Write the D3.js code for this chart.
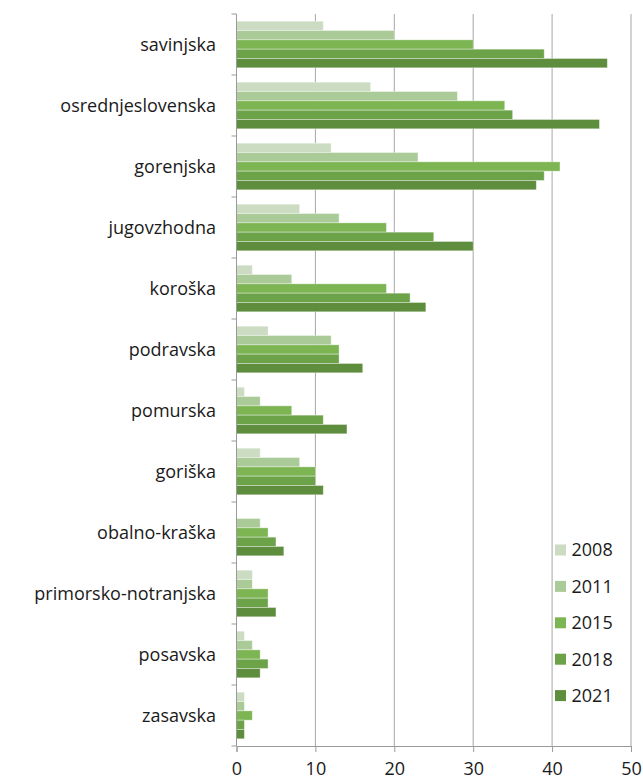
<!DOCTYPE html>
<html><head><meta charset="utf-8">
<script src="https://cdn.jsdelivr.net/npm/d3@7"></script>
<style>body{margin:0;background:#fff}svg{display:block}</style>
</head><body>
<svg id="c" width="643" height="780"></svg>
<script>
const categories = ["savinjska","osrednjeslovenska","gorenjska","jugovzhodna","koroška","podravska","pomurska","goriška","obalno-kraška","primorsko-notranjska","posavska","zasavska"];
const years = ["2008","2011","2015","2018","2021"];
const v2008 = [11,17,12,8,2,4,1,3,0,2,1,1];
const v2011 = [20,28,23,13,7,12,3,8,3,2,2,1];
const v2015 = [30,34,41,19,19,13,7,10,4,4,3,2];
const v2018 = [39,35,39,25,22,13,11,10,5,4,4,1];
const v2021 = [47,46,38,30,24,16,14,11,6,5,3,1];
const xTicks = [0,10,20,30,40,50];
const colors = ["#cbdcc3","#aacb98","#7db553","#6ca349","#5e8d3e"];
const series = [v2008,v2011,v2015,v2018,v2021];

(function(){
const svg = d3.select("#c");
const font = "'Open Sans', sans-serif";
const pL = 236.5, pR = 631, pT = 14, pB = 746;
const x = d3.scaleLinear().domain([0,50]).range([pL,pR]);
const y = d3.scaleBand().domain(categories).range([pT,pB]).paddingInner(0.236).paddingOuter(0.118);
const yb = d3.scaleBand().domain(categories).range([pT,pB]);
const inner = d3.scaleBand().domain(years).range([0,y.bandwidth()]);

svg.append("g").selectAll("line").data(xTicks.filter(d=>d>0)).join("line")
  .attr("x1",d=>x(d)).attr("x2",d=>x(d)).attr("y1",pT).attr("y2",pB)
  .attr("stroke","#a6a6a6").attr("stroke-width",1);

const groups = svg.append("g").selectAll("g").data(categories).join("g")
  .attr("transform",c=>`translate(0,${y(c)})`);
groups.selectAll("rect").data((c,i)=>years.map((yr,j)=>({yr,v:series[j][i],j}))).join("rect")
  .attr("x",x(0)).attr("y",d=>inner(d.yr)).attr("height",inner.bandwidth())
  .attr("width",d=>Math.max(0,x(d.v)-x(0)))
  .attr("fill",d=>colors[d.j])
  .attr("stroke",d=>d.v>0?"rgba(255,255,255,0.45)":"none").attr("stroke-width",0.8);

const axisColor = "#9a9a9a";
svg.append("line").attr("x1",pL).attr("x2",pL).attr("y1",pT).attr("y2",pB).attr("stroke",axisColor);
const bounds = categories.map(c=>yb(c)).concat([pB]);
svg.append("g").selectAll("line").data(bounds).join("line")
  .attr("x1",pL-5).attr("x2",pL).attr("y1",d=>d).attr("y2",d=>d).attr("stroke",axisColor);
svg.append("g").selectAll("text").data(categories).join("text")
  .attr("x",216).attr("y",c=>yb(c)+yb.bandwidth()/2).attr("dy","0.35em")
  .attr("text-anchor","end").attr("font-family",font).attr("font-size",18).attr("fill","#1a1a1a")
  .text(d=>d);

const xAxis = d3.axisBottom(x).tickValues(xTicks).tickSize(6).tickPadding(10);
const gx = svg.append("g").attr("transform",`translate(0,${pB})`).call(xAxis);
gx.select(".domain").attr("stroke",axisColor);
gx.selectAll(".tick line").attr("stroke",axisColor);
gx.selectAll(".tick text").attr("font-family",font).attr("font-size",18).attr("fill","#1a1a1a");

const lg = svg.append("g").selectAll("g").data(years).join("g")
  .attr("transform",(d,i)=>`translate(555,${550+i*36.4})`);
lg.append("rect").attr("x",0).attr("y",-5.5).attr("width",11).attr("height",11).attr("fill",(d,i)=>colors[i]);
lg.append("text").attr("x",16.5).attr("y",0).attr("dy","0.35em").attr("font-family",font).attr("font-size",18).attr("fill","#1a1a1a").text(d=>d);
})();
</script>
</body></html>
